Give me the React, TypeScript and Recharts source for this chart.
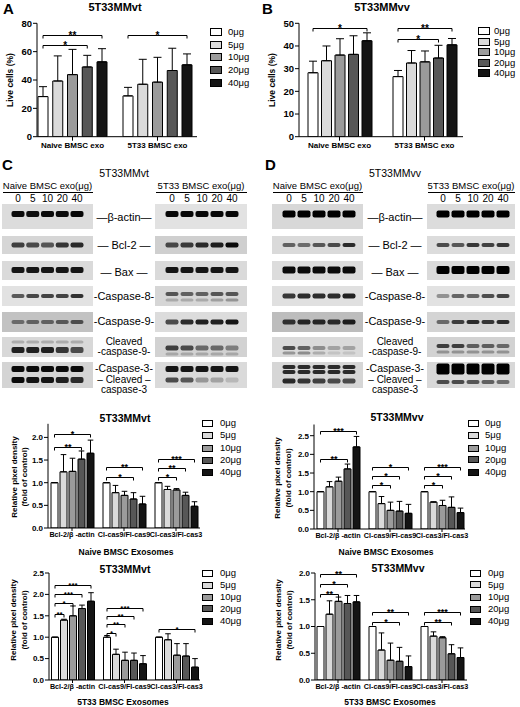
import React from 'react'
import { BarChart, Bar, XAxis, YAxis, ErrorBar, LabelList } from 'recharts'

const FONT = '"Liberation Sans", Arial, Helvetica, sans-serif'

const doses = ['0μg', '5μg', '10μg', '20μg', '40μg']
const doseKeys = ['d0', 'd5', 'd10', 'd20', 'd40']
const doseFills = ['#ffffff', '#dadada', '#9b9b9b', '#575757', '#141414']
const laneDoses = ['0', '5', '10', '20', '40']

const liveGroups = ['Naive BMSC exo', '5T33 BMSC exo']
const ratioGroups = ['Bcl-2/β -actin', 'Cl-cas9/Fl-cas9', 'Cl-cas3/Fl-cas3']

// [group, last dose index, bracket level, stars]
type Sig = [number, number, number, string]

// A - 5T33MMvt live cells (%)
const vtLiveMean = [[28.3, 39.3, 43.8, 49.2, 52.8], [28.8, 37.0, 38.5, 46.7, 50.7]]
const vtLiveSd = [[7.0, 17.7, 17.8, 8.2, 9.3], [6.0, 17.6, 17.5, 15.7, 7.7]]
const vtLiveSig: Sig[] = [[0, 4, 72, '**'], [0, 3, 64.5, '*'], [1, 4, 72, '*']]

// B - 5T33MMvv live cells (%)
const vvLiveMean = [[28.2, 33.5, 36.0, 36.3, 42.3], [26.5, 32.5, 33.0, 34.7, 40.5]]
const vvLiveSd = [[5.1, 6.5, 7.2, 8.2, 3.5], [2.7, 5.5, 4.8, 5.6, 2.8]]
const vvLiveSig: Sig[] = [[0, 4, 47.8, '*'], [1, 4, 47.8, '**'], [1, 3, 43, '*']]

// C densitometry - naive exosomes on 5T33MMvt
const vtNaiveMean = [[1, 1.24, 1.25, 1.52, 1.65], [1, 0.78, 0.72, 0.64, 0.53], [1, 0.85, 0.84, 0.72, 0.48]]
const vtNaiveSd = [[0, 0.38, 0.29, 0.18, 0.29], [0, 0.16, 0.09, 0.14, 0.17], [0, 0.07, 0.03, 0.07, 0.1]]
const vtNaiveSig: Sig[] = [
  [0, 4, 2.08, '*'], [0, 3, 1.79, '**'],
  [1, 4, 1.35, '**'], [1, 3, 1.12, '*'],
  [2, 4, 1.52, '***'], [2, 3, 1.32, '**'], [2, 2, 1.12, '*'],
]

// D densitometry - naive exosomes on 5T33MMvv
const vvNaiveMean = [[1, 1.13, 1.28, 1.61, 2.2], [1, 0.68, 0.5, 0.48, 0.42], [1, 0.72, 0.63, 0.58, 0.44]]
const vvNaiveSd = [[0, 0.14, 0.11, 0.13, 0.28], [0, 0.19, 0.22, 0.26, 0.24], [0, 0.01, 0.14, 0.28, 0.12]]
const vvNaiveSig: Sig[] = [
  [0, 4, 2.62, '***'], [0, 3, 1.88, '**'],
  [1, 4, 1.66, '*'], [1, 3, 1.41, '*'], [1, 2, 1.17, '*'],
  [2, 4, 1.66, '***'], [2, 3, 1.41, '*'], [2, 2, 1.17, '*'],
]

// C densitometry - 5T33 exosomes on 5T33MMvt
const vt5t33Mean = [[1, 1.4, 1.5, 1.67, 1.84], [1, 0.6, 0.46, 0.46, 0.38], [1, 0.94, 0.58, 0.56, 0.3]]
const vt5t33Sd = [[0, 0.02, 0.23, 0.08, 0.2], [0.04, 0.12, 0.19, 0.17, 0.19], [0, 0.14, 0.27, 0.29, 0.2]]
const vt5t33Sig: Sig[] = [
  [0, 4, 2.23, '***'], [0, 3, 2.0, '***'], [0, 2, 1.81, '*'], [0, 1, 1.55, '**'],
  [1, 4, 1.69, '***'], [1, 3, 1.5, '**'], [1, 2, 1.31, '**'], [1, 1, 1.09, '*'],
  [2, 4, 1.19, '*'],
]

// D densitometry - 5T33 exosomes on 5T33MMvv
const vv5t33Mean = [[1, 1.23, 1.47, 1.43, 1.46], [1, 0.56, 0.37, 0.35, 0.25], [1, 0.82, 0.79, 0.49, 0.42]]
const vv5t33Sd = [[0, 0.25, 0.08, 0.15, 0.12], [0, 0.32, 0.32, 0.26, 0.2], [0, 0.08, 0.02, 0.17, 0.18]]
const vv5t33Sig: Sig[] = [
  [0, 4, 1.98, '**'], [0, 3, 1.79, '*'], [0, 2, 1.6, '**'],
  [1, 4, 1.28, '**'], [1, 3, 1.09, '*'],
  [2, 4, 1.28, '***'], [2, 3, 1.09, '**'],
]

// western blot band intensities (0..1) per strip, per lane: [offset, thickness, lanes]
type Layer = [number, number, number[]]
const blotNaiveVt: Layer[][] = [
  [[10, 6, [0.95, 0.93, 0.95, 0.95, 0.97]]],
  [[9, 5, [0.7, 0.65, 0.6, 0.75, 0.8]]],
  [[9, 6, [0.9, 0.9, 0.9, 0.9, 0.9]]],
  [[10, 4, [0.6, 0.68, 0.7, 0.7, 0.78]]],
  [[10, 4, [0.45, 0.5, 0.5, 0.55, 0.6]]],
  [[5, 3, [0.2, 0.2, 0.2, 0.2, 0.2]], [13, 6, [0.85, 0.85, 0.85, 0.75, 0.65]]],
  [[7, 6, [0.95, 0.95, 0.95, 0.95, 0.95]], [18, 6, [0.95, 0.9, 0.9, 0.85, 0.8]]],
]
const blot5t33Vt: Layer[][] = [
  [[10, 6, [0.97, 0.97, 0.97, 0.97, 0.97]]],
  [[9, 5, [0.65, 0.72, 0.8, 0.85, 0.95]]],
  [[9, 6, [0.9, 0.9, 0.9, 0.9, 0.9]]],
  [[8, 4, [0.6, 0.55, 0.55, 0.6, 0.6]], [14, 3, [0.2, 0.2, 0.2, 0.25, 0.3]]],
  [[10, 5, [0.65, 0.8, 0.85, 0.85, 0.9]]],
  [[11, 5, [0.7, 0.65, 0.5, 0.5, 0.4]], [17, 3, [0.2, 0.2, 0.2, 0.2, 0.2]]],
  [[7, 6, [0.9, 0.9, 0.9, 0.9, 0.9]], [18, 5, [0.65, 0.6, 0.3, 0.25, 0.15]]],
]
const blotNaiveVv: Layer[][] = [
  [[10, 7, [1, 1, 1, 1, 1]]],
  [[9, 4, [0.55, 0.5, 0.6, 0.65, 0.8]]],
  [[9, 7, [0.95, 0.95, 0.95, 0.95, 0.95]]],
  [[10, 5, [0.75, 0.8, 0.8, 0.8, 0.85]]],
  [[10, 5, [0.75, 0.8, 0.8, 0.78, 0.85]]],
  [[11, 4, [0.65, 0.55, 0.35, 0.25, 0.25]], [16, 3, [0.3, 0.35, 0.2, 0.1, 0.1]]],
  [[5, 4, [0.8, 0.8, 0.8, 0.8, 0.8]], [10, 4, [0.8, 0.8, 0.8, 0.8, 0.8]], [19, 5, [0.8, 0.75, 0.7, 0.65, 0.65]]],
]
const blot5t33Vv: Layer[][] = [
  [[10, 7, [1, 1, 1, 1, 1]]],
  [[9, 4, [0.65, 0.6, 0.75, 0.7, 0.75]]],
  [[9, 8, [1, 1, 1, 1, 1]]],
  [[10, 4, [0.35, 0.55, 0.55, 0.65, 0.7]]],
  [[10, 4, [0.5, 0.7, 0.8, 0.75, 0.8]]],
  [[9, 4, [0.7, 0.7, 0.55, 0.55, 0.5]], [15, 3, [0.3, 0.3, 0.3, 0.3, 0.3]]],
  [[7, 11, [1, 1, 1, 1, 1]], [20, 4, [0.65, 0.65, 0.6, 0.55, 0.5]]],
]

const stripTop = [204, 236, 261, 286, 312, 337, 362]
const stripH = [25, 18, 19, 20, 20, 20, 26]
const rowLabels = [
  ['—β-actin—'], ['— Bcl-2 —'], ['— Bax —'], ['-Caspase-8-'], ['-Caspase-9-'],
  ['Cleaved', '-caspase-9-'], ['-Caspase-3-'], ['– Cleaved –', 'caspase-3'],
]
const rowLabelY = [[217], [245], [272], [296], [321], [341.5, 352], [368], [379.5, 390]]

type BlotCfg = { x: number; w: number; lane0: number; step: number; bg: string[]; layers: Layer[][]; head: string }
const blots: BlotCfg[] = [
  { x: 2, w: 91, lane0: 18, step: 14.75, head: 'Naive BMSC exo(μg)', layers: blotNaiveVt,
    bg: ['#dcdcdc', '#d6d6d6', '#dadada', '#e2e2e2', '#c2c2c2', '#d8d8d8', '#d4d4d4'] },
  { x: 155, w: 92, lane0: 172, step: 15, head: '5T33 BMSC exo(μg)', layers: blot5t33Vt,
    bg: ['#e2e2e2', '#cfcfcf', '#dadada', '#d6d6d6', '#dcdcdc', '#d2d2d2', '#dadada'] },
  { x: 272, w: 91, lane0: 289, step: 15, head: 'Naive BMSC exo(μg)', layers: blotNaiveVv,
    bg: ['#d8d8d8', '#dadada', '#dcdcdc', '#e0e0e0', '#bdbdbd', '#dadada', '#d6d6d6'] },
  { x: 427, w: 88, lane0: 443, step: 15, head: '5T33 BMSC exo(μg)', layers: blot5t33Vv,
    bg: ['#dcdcdc', '#dcdcdc', '#dadada', '#e2e2e2', '#d4d4d4', '#d2d2d2', '#d8d8d8'] },
]

function T({ x, y, size, bold, anchor = 'middle', rotate, children }: any) {
  const tx = anchor === 'middle' ? '-50%' : anchor === 'end' ? '-100%' : '0'
  return (
    <div
      style={{
        position: 'absolute', left: x, top: y,
        transform: `translate(${tx},-50%)${rotate ? ' rotate(-90deg)' : ''}`,
        fontSize: size, fontWeight: bold ? 700 : 400, lineHeight: 1,
        whiteSpace: 'nowrap', fontFamily: FONT, color: '#000',
      }}
    >
      {children}
    </div>
  )
}

function DoseKey({ boxX, labelX, ys, boxW, boxH, fs }: any) {
  return (
    <>
      {doses.map((d, i) => (
        <React.Fragment key={d}>
          <div
            style={{
              position: 'absolute', left: boxX, top: ys[i] - boxH / 2, width: boxW, height: boxH,
              background: doseFills[i], border: '1px solid #000', boxSizing: 'border-box',
            }}
          />
          <T x={labelX} y={ys[i]} size={fs} anchor="start">{d}</T>
        </React.Fragment>
      ))}
    </>
  )
}

type Cfg = {
  x: number; y: number; w: number; h: number
  axisW: number; mTop: number; mRight: number; xH: number
  padL: number; padR: number
  domain: [number, number]; ticks: number[]; digits: number
  barSize: number; barGap: number; cap: number; stroke: number
  tickFs: number; catFs: number; starFs: number; xTickSize: number; xTickMargin: number
}

// brackets are drawn from the label of the last bar they span, using the bar's own geometry
const bracket = (sig: Sig[], mean: number[][], di: number, cfg: Cfg) => (props: any) => {
  const vb = props.viewBox ?? {}
  const x = vb.x ?? props.x
  const y = vb.y ?? props.y
  const width = vb.width ?? props.width
  const height = vb.height ?? props.height
  const index = props.index
  if (index === undefined || x === undefined) return null
  const items = sig.filter((s) => s[0] === index && s[1] === di)
  if (!items.length) return null
  const v = mean[index][di]
  const base = y + height
  const perUnit = height / v
  const xe = x + width / 2
  const xs = xe - di * (width + cfg.barGap)
  return (
    <g>
      {items.map((s, i) => {
        const by = Math.round(base - s[2] * perUnit) + 0.5
        return (
          <g key={i}>
            <path d={`M${xs},${by + 3}V${by}H${xe}V${by + 3}`} fill="none" stroke="#000" strokeWidth={1} />
            <text x={(xs + xe) / 2} y={by + cfg.starFs * 0.3} textAnchor="middle" fontSize={cfg.starFs}
              fontWeight="bold" fontFamily={FONT} fill="#000">{s[3]}</text>
          </g>
        )
      })}
    </g>
  )
}

function GroupedBars({ cfg, groups, mean, sd, sig }: { cfg: Cfg; groups: string[]; mean: number[][]; sd: number[][]; sig: Sig[] }) {
  const rows = groups.map((name, gi) => {
    const row: any = { name }
    doseKeys.forEach((k, di) => {
      row[k] = mean[gi][di]
      row[k + 'e'] = [0, sd[gi][di]]
    })
    return row
  })
  const tickStyle = { fill: '#000', fontWeight: 700, fontFamily: FONT }
  return (
    <div style={{ position: 'absolute', left: cfg.x, top: cfg.y }}>
      <BarChart
        width={cfg.w}
        height={cfg.h}
        data={rows}
        margin={{ top: cfg.mTop, right: cfg.mRight, bottom: 0, left: 0 }}
        barGap={cfg.barGap}
        barSize={cfg.barSize}
      >
        <XAxis
          dataKey="name"
          height={cfg.xH}
          padding={{ left: cfg.padL, right: cfg.padR }}
          interval={0}
          tickSize={cfg.xTickSize}
          tickMargin={cfg.xTickMargin}
          axisLine={{ stroke: '#000' }}
          tickLine={{ stroke: '#000' }}
          tick={{ ...tickStyle, fontSize: cfg.catFs }}
        />
        <YAxis
          width={cfg.axisW}
          domain={cfg.domain}
          ticks={cfg.ticks}
          interval={0}
          allowDataOverflow
          tickSize={4}
          tickMargin={1}
          tickFormatter={(v: number) => v.toFixed(cfg.digits)}
          axisLine={{ stroke: '#000' }}
          tickLine={{ stroke: '#000' }}
          tick={{ ...tickStyle, fontSize: cfg.tickFs }}
        />
        {doseKeys.map((k, di) => (
          <Bar
            key={k}
            dataKey={k}
            fill={doseFills[di]}
            stroke="#000"
            strokeWidth={cfg.stroke}
            isAnimationActive={false}
          >
            <ErrorBar dataKey={k + 'e'} width={cfg.cap} stroke="#000" strokeWidth={1} direction="y" isAnimationActive={false} />
            <LabelList dataKey={k} content={bracket(sig, mean, di, cfg)} />
          </Bar>
        ))}
      </BarChart>
    </div>
  )
}

const base = { stroke: 1, xTickSize: 3, xTickMargin: 1, tickFs: 8, catFs: 7.2, starFs: 9, barSize: 7, barGap: 2, cap: 2.8, digits: 1 }

const cfgA: Cfg = { ...base, x: 0, y: 15, w: 205, h: 140, axisW: 37, mTop: 8.3, mRight: 8, xH: 18.3, padL: -7, padR: -3,
  domain: [0, 80], ticks: [0, 20, 40, 60, 80], digits: 0, barSize: 10, barGap: 4.75, cap: 4,
  tickFs: 9.5, catFs: 8, starFs: 10, xTickSize: 4, xTickMargin: 2 }
const cfgB: Cfg = { ...cfgA, x: 262, w: 203, mRight: 2, padL: -2, padR: -4, domain: [0, 50],
  ticks: [0, 10, 20, 30, 40, 50], barGap: 3.5 }
const cfgC: Cfg = { ...base, x: 0, y: 415, w: 215, h: 130, axisW: 48, mTop: 8.8, mRight: 15, xH: 17, padL: -2, padR: -2,
  domain: [0, 2.3], ticks: [0, 0.5, 1, 1.5, 2] }
const cfgD: Cfg = { ...base, x: 262, y: 415, w: 215, h: 130, axisW: 52, mTop: 9.5, mRight: 12, xH: 16, padL: -2, padR: -3,
  domain: [0, 2.8], ticks: [0, 0.5, 1, 1.5, 2, 2.5] }
const cfgE: Cfg = { ...base, x: 0, y: 565, w: 215, h: 132, axisW: 49, mTop: 8, mRight: 15, xH: 17, padL: -2.5, padR: -2.5,
  domain: [0, 2.5], ticks: [0, 0.5, 1, 1.5, 2, 2.5], starFs: 8 }
const cfgF: Cfg = { ...base, x: 262, y: 565, w: 217, h: 132, axisW: 53, mTop: 8, mRight: 12, xH: 17, padL: -3, padR: -1,
  domain: [0, 2], ticks: [0, 0.5, 1, 1.5, 2] }

function Blots() {
  return (
    <svg width={520} height={707} style={{ position: 'absolute', left: 0, top: 0 }}>
      <defs>
        <filter id="soft" x="-30%" y="-80%" width="160%" height="260%">
          <feGaussianBlur stdDeviation="0.65" />
        </filter>
      </defs>
      {blots.map((b, bi) => (
        <g key={bi}>
          <line x1={b.x + 1} x2={b.x + b.w} y1={192.5} y2={192.5} stroke="#000" strokeWidth={1} />
          {b.layers.map((layers, si) => (
            <g key={si}>
              <rect x={b.x} y={stripTop[si]} width={b.w} height={stripH[si]} fill={b.bg[si]} />
              {layers.map(([dy, h, vals], li) =>
                vals.map((v, lane) => (
                  <rect
                    key={`${li}-${lane}`}
                    x={b.lane0 + lane * b.step - 6.5}
                    y={stripTop[si] + dy - h / 2}
                    width={13}
                    height={h}
                    rx={2}
                    fill="#050505"
                    opacity={v}
                    filter="url(#soft)"
                  />
                )),
              )}
            </g>
          ))}
        </g>
      ))}
    </svg>
  )
}

function BlotText() {
  return (
    <>
      {blots.map((b, bi) => (
        <React.Fragment key={bi}>
          <T x={b.x + b.w / 2} y={186} size={9.5}>{b.head}</T>
          {laneDoses.map((d, i) => (
            <T key={d} x={b.lane0 + i * b.step} y={198.5} size={10}>{d}</T>
          ))}
        </React.Fragment>
      ))}
      {[124, 395].map((cx) =>
        rowLabels.map((lines, ri) =>
          lines.map((txt, li) => (
            <T key={`${cx}-${ri}-${li}`} x={cx} y={rowLabelY[ri][li]} size={lines.length > 1 ? 10 : ri === 6 ? 10.5 : 11}>{txt}</T>
          )),
        ),
      )}
    </>
  )
}

export default function App() {
  return (
    <div style={{ position: 'absolute', left: 0, top: 0, width: 520, height: 707, background: '#fff', overflow: 'hidden', fontFamily: FONT }}>
      <Blots />
      <BlotText />

      {/* panel letters and titles */}
      <T x={3} y={8} size={15} bold anchor="start">A</T>
      <T x={262} y={8} size={15} bold anchor="start">B</T>
      <T x={2} y={164} size={15} bold anchor="start">C</T>
      <T x={265} y={164} size={15} bold anchor="start">D</T>
      <T x={115} y={7} size={11} bold>5T33MMvt</T>
      <T x={382} y={7} size={11} bold>5T33MMvv</T>
      <T x={124} y={173} size={10.5}>5T33MMvt</T>
      <T x={395} y={173} size={10.5}>5T33MMvv</T>

      {/* live cell charts */}
      <T x={10} y={80} size={8.5} bold rotate>Live cells (%)</T>
      <GroupedBars cfg={cfgA} groups={liveGroups} mean={vtLiveMean} sd={vtLiveSd} sig={vtLiveSig} />
      <DoseKey boxX={210} labelX={228} ys={[32, 44.5, 57, 70, 83]} boxW={12} boxH={8} fs={9.5} />

      <T x={272} y={80} size={8.5} bold rotate>Live cells (%)</T>
      <GroupedBars cfg={cfgB} groups={liveGroups} mean={vvLiveMean} sd={vvLiveSd} sig={vvLiveSig} />
      <DoseKey boxX={478} labelX={494} ys={[31, 41.5, 52, 62.5, 73]} boxW={12} boxH={8} fs={9.5} />

      {/* densitometry, naive exosomes */}
      <T x={125} y={418} size={10.5} bold>5T33MMvt</T>
      <T x={15} y={477} size={8} bold rotate>Relative pixel density</T>
      <T x={25} y={477} size={8} bold rotate>(fold of control)</T>
      <GroupedBars cfg={cfgC} groups={ratioGroups} mean={vtNaiveMean} sd={vtNaiveSd} sig={vtNaiveSig} />
      <DoseKey boxX={202} labelX={220} ys={[423, 435, 448, 460, 472]} boxW={11} boxH={7} fs={9.5} />
      <T x={126} y={552} size={8.5} bold>Naive BMSC Exosomes</T>

      <T x={397} y={417} size={10.5} bold>5T33MMvv</T>
      <T x={278} y={478} size={8} bold rotate>Relative pixel density</T>
      <T x={289} y={478} size={8} bold rotate>(fold of control)</T>
      <GroupedBars cfg={cfgD} groups={ratioGroups} mean={vvNaiveMean} sd={vvNaiveSd} sig={vvNaiveSig} />
      <DoseKey boxX={468} labelX={485} ys={[423, 435, 448, 459.5, 472]} boxW={11} boxH={7} fs={9.5} />
      <T x={386} y={552} size={8.5} bold>Naive BMSC Exosomes</T>

      {/* densitometry, 5T33 exosomes */}
      <T x={125} y={569} size={10.5} bold>5T33MMvt</T>
      <T x={14} y={620} size={8} bold rotate>Relative pixel density</T>
      <T x={25} y={620} size={8} bold rotate>(fold of control)</T>
      <GroupedBars cfg={cfgE} groups={ratioGroups} mean={vt5t33Mean} sd={vt5t33Sd} sig={vt5t33Sig} />
      <DoseKey boxX={202} labelX={220} ys={[573, 585, 597, 608.5, 621]} boxW={11} boxH={7} fs={9.5} />
      <T x={123} y={702} size={8.5} bold>5T33 BMSC Exosomes</T>

      <T x={398} y={568} size={10.5} bold>5T33MMvv</T>
      <T x={279} y={620} size={8} bold rotate>Relative pixel density</T>
      <T x={290} y={620} size={8} bold rotate>(fold of control)</T>
      <GroupedBars cfg={cfgF} groups={ratioGroups} mean={vv5t33Mean} sd={vv5t33Sd} sig={vv5t33Sig} />
      <DoseKey boxX={470} labelX={488} ys={[573, 584.5, 597, 609, 621]} boxW={11} boxH={7} fs={9.5} />
      <T x={390} y={702} size={8.5} bold>5T33 BMSC Exosomes</T>
    </div>
  )
}
